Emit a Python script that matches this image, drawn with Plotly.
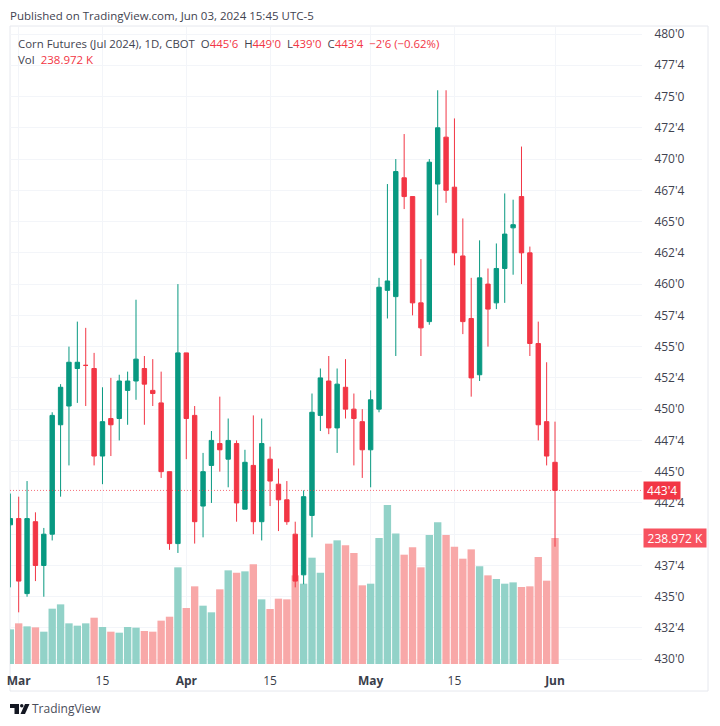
import plotly.graph_objects as go

opens = [440.75,441.25,435.25,441,437.5,440,448.75,450.25,453.25,453.5,453.25,446.25,449.25,449.25,451.5,452.25,453.25,451.5,450.5,445,439.25,454.5,449.5,442.25,445.5,447.25,446,447.25,442,445.5,441,446,444,442.75,440,436.75,441.5,449.5,452.25,448.5,451.75,450,449,446.75,450,459.5,459,468.5,467,458.5,457,468,471.75,467.75,462.25,457.25,452.75,460,458.5,461.25,464.5,467,462.5,455.25,449,445.75]
highs = [443.25,443,444.25,441.75,440.5,449.75,452,455,457,456.5,454.5,451.75,452.5,452.75,453,458.75,454.25,454,453,445,460,454.5,450.25,446.5,448.25,451,449.25,447.5,446.75,449.5,449.25,447,445.25,444.25,441,443.5,451.25,453.25,454.25,453.25,454,451.25,450,451.5,460.5,468,470,472,467,462,470,475.5,475.5,473.25,465.25,460.5,463.5,461.25,463.25,467.25,466.75,471,463,457,453.75,449]
lows = [435.75,433.75,435,436.25,435,439.5,443,445.5,450.5,450.25,445.5,444,446.25,447.5,448.75,450.75,448.75,450.25,444.5,438.75,438.5,446,439.25,439.75,442.5,445,443.75,441,442,440,439.5,442.25,440.25,440.75,435.75,436,439.75,448.25,448,446.5,449.25,445.5,444.5,443.75,449.75,457.25,454.25,466,457.5,454.25,456.75,465.5,466.5,461.5,456,451,452.25,455,458,458.5,460.75,460,454.25,447.5,445.5,439]
closes = [441.25,436.25,441.25,437.5,440,449.5,451.75,453.75,453.75,453.5,446.25,449,448.75,452.25,452.25,454,452,451.25,445,439.25,454.5,449.25,441,445,447.5,446.75,447.5,442.5,445.75,441,447.25,444.25,442.75,441,436.25,443,449.75,452.5,448.5,452,450,449.25,446.75,450.75,459.75,460.25,469,467,458.5,456.5,469.75,472.5,467.5,462.5,457,452.5,460.5,458,461.25,464,464.75,462.5,455.25,448.75,446.25,443.5]
volumes_k = [65.7,77.1,71.4,69.5,61.3,104.9,113.1,77.1,72.7,77.1,87.8,70.2,61.3,59.4,70.2,68.9,62.6,61.3,82.2,89.7,183.3,106.2,147.3,110.6,98,141.6,177.6,173.2,175.7,189,122.6,104.3,123.9,122.6,168.1,152.3,201.6,173.2,228.2,234.5,225,210.5,149.2,152.3,238.9,301.5,247.7,207.3,221.2,183.3,244.6,268.6,244.6,222.5,199.7,217.4,185.2,168.1,161.2,152.3,154.8,146,147.3,202.9,158,238.972]
sessions = list(range(len(opens)))

time_tick_pos = [1, 11, 21, 31, 43, 53, 65]
time_tick_text = ["<b>Mar</b>", "15", "<b>Apr</b>", "15", "<b>May</b>", "15", "<b>Jun</b>"]
price_tick_vals = [430,432.5,435,437.5,440,442.5,445,447.5,450,452.5,455,457.5,460,462.5,465,467.5,470,472.5,475,477.5,480]
# the 440'0 label sits behind the volume tag in the reference
price_tick_text = ["430'0","432'4","435'0","437'4"," ","442'4","445'0","447'4","450'0","452'4","455'0","457'4","460'0","462'4","465'0","467'4","470'0","472'4","475'0","477'4","480'0"]
last_price = 443.5
last_price_label = "443'4"
last_volume = 238.972
last_volume_label = "238.972 K"

W, H = 720, 726
L, R, T, B = 10, 642, 27, 664
FONT = "Open Sans"
UP, DOWN = "#089981", "#F23645"
VUP, VDOWN = "#92D2C8", "#F8A8A8"
GRID = "#F3F5F9"
TEXT = "#3F4350"

def px(x):
    return (x - L) / (R - L)
def py(y):
    return (B - y) / (B - T)

vol_colors = [VUP if c >= o else VDOWN for o, c in zip(opens, closes)]

fig = go.Figure()
fig.add_trace(go.Bar(x=sessions, y=volumes_k, marker=dict(color=vol_colors, line=dict(width=0)),
                     yaxis="y", hoverinfo="skip", showlegend=False))
fig.add_trace(go.Candlestick(
    x=sessions, open=opens, high=highs, low=lows, close=closes, yaxis="y2", showlegend=False,
    whiskerwidth=0,
    increasing=dict(line=dict(color=UP, width=1), fillcolor=UP),
    decreasing=dict(line=dict(color=DOWN, width=1), fillcolor=DOWN)))

header = ("Corn Futures (Jul 2024), 1D, CBOT  "
          f"O<span style='color:{DOWN}'>445'6</span>  H<span style='color:{DOWN}'>449'0</span>  "
          f"L<span style='color:{DOWN}'>439'0</span>  C<span style='color:{DOWN}'>443'4</span>  "
          f"<span style='color:{DOWN}'>−2'6 (−0.62%)</span>")
vol_line = f"Vol  <span style='color:{DOWN}'>238.972 K</span>"

def text(x, y, s, size=11.5, color=TEXT):
    return dict(xref="paper", yref="paper", x=px(x), y=py(y), text=s, showarrow=False,
                xanchor="left", yanchor="middle", font=dict(family=FONT, size=size, color=color))

annotations = [
    text(8, 15, "Published on TradingView.com, Jun 03, 2024 15:45 UTC-5"),
    text(16, 43, header, size=11.4),
    text(16, 59, vol_line),
    text(30, 709, "TradingView", size=12, color="#4A4E5A"),
    dict(xref="paper", yref="y2", x=px(643), y=last_price, text=f" {last_price_label} ", showarrow=False,
         xanchor="left", yanchor="middle", bgcolor=DOWN, borderpad=0,
         font=dict(family=FONT, size=12, color="white")),
    dict(xref="paper", yref="y", x=px(643), y=last_volume, text=f" {last_volume_label} ", showarrow=False,
         xanchor="left", yanchor="middle", bgcolor="#F7525F", borderpad=0.5,
         font=dict(family=FONT, size=12, color="white")),
]

shapes = [
    dict(type="rect", xref="paper", yref="paper", x0=px(10), x1=px(708), y0=py(691), y1=py(26),
         line=dict(color="#E6E8EE", width=1), fillcolor="rgba(0,0,0,0)", layer="below"),
    dict(type="line", xref="paper", yref="y2", x0=0, x1=1, y0=last_price, y1=last_price,
         line=dict(color=DOWN, width=1, dash="1px,2px"), opacity=0.7),
    # TradingView logo
    dict(type="path", xref="paper", yref="paper", fillcolor="#131722", line=dict(width=0),
         path=f"M {px(10)} {py(704)} L {px(19)} {py(704)} L {px(19)} {py(714)} L {px(14.5)} {py(714)} "
              f"L {px(14.5)} {py(708)} L {px(10)} {py(708)} Z"),
    dict(type="circle", xref="paper", yref="paper", fillcolor="#131722", line=dict(width=0),
         x0=px(20), x1=px(23.5), y0=py(707.5), y1=py(704)),
    dict(type="path", xref="paper", yref="paper", fillcolor="#131722", line=dict(width=0),
         path=f"M {px(25)} {py(704)} L {px(29.5)} {py(704)} L {px(25)} {py(714)} L {px(20.5)} {py(714)} Z"),
]

fig.update_layout(
    width=W, height=H, margin=dict(l=L, r=W - R, t=T, b=H - B, autoexpand=False),
    paper_bgcolor="white", plot_bgcolor="white", barmode="overlay", bargap=0.12,
    boxgap=0.25, showlegend=False, annotations=annotations, shapes=shapes,
    xaxis=dict(range=[-0.036, 75.38], tickmode="array", tickvals=time_tick_pos, ticktext=time_tick_text,
               showgrid=True, gridcolor=GRID, gridwidth=1, zeroline=False, showline=False,
               ticks="outside", ticklen=6, tickcolor="rgba(0,0,0,0)", rangeslider=dict(visible=False),
               tickfont=dict(family=FONT, size=12, color="#3A3E4A")),
    yaxis=dict(range=[0, 1208], visible=False, fixedrange=True),
    yaxis2=dict(overlaying="y", side="right", range=[429.62, 480.56], tickmode="array",
                tickvals=price_tick_vals, ticktext=price_tick_text,
                showgrid=True, gridcolor=GRID, gridwidth=1, zeroline=False, showline=False,
                ticks="outside", ticklen=9, tickcolor="rgba(0,0,0,0)",
                tickfont=dict(family=FONT, size=12, color="#3F4350")),
)
fig.write_html("out.html", config={"displayModeBar": False},
               post_script="document.body.style.margin='0';")
